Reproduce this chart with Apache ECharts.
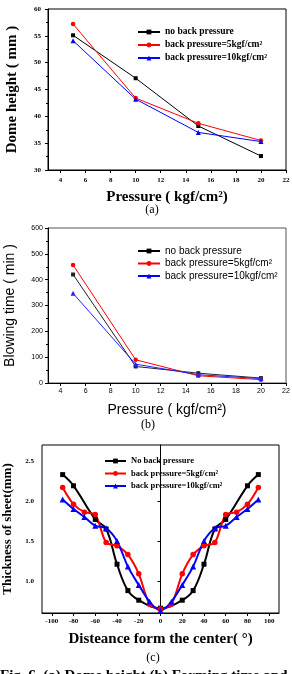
<!DOCTYPE html>
<html><head><meta charset="utf-8">
<script src="https://cdn.jsdelivr.net/npm/echarts@6/dist/echarts.min.js"></script>
<style>html,body{margin:0;padding:0;background:#fff;}#c{width:292px;height:674px;}</style>
</head><body><div id="c"></div>
<script>
// ---- Data ----
const pressure = [5, 10, 15, 20];
const domeNoBP = [55.1, 47.1, 38.2, 32.6];
const dome5 = [57.2, 43.4, 38.7, 35.5];
const dome10 = [54.1, 43.2, 37.0, 35.3];
const blowNoBP = [420, 64, 38, 19];
const blow5 = [457, 90, 28, 13];
const blow10 = [347, 73, 32, 17];
const distBlack = [-90, -80, -60, -50, -40, -30, -20, 0, 20, 30, 40, 50, 60, 80, 90];
const thickNoBP = [2.33, 2.19, 1.77, 1.65, 1.21, 0.88, 0.76, 0.66, 0.76, 0.88, 1.21, 1.65, 1.77, 2.19, 2.33];
const distColor = [-90, -80, -70, -60, -50, -40, -30, -20, -10, 0, 10, 20, 30, 40, 50, 60, 70, 80, 90];
const thick5 = [2.17, 1.96, 1.86, 1.83, 1.48, 1.44, 1.33, 1.09, 0.71, 0.65, 0.71, 1.09, 1.33, 1.44, 1.48, 1.83, 1.86, 1.96, 2.17];
const thick10 = [2.02, 1.90, 1.80, 1.69, 1.66, 1.50, 1.18, 0.95, 0.74, 0.63, 0.74, 0.95, 1.18, 1.50, 1.66, 1.69, 1.80, 1.90, 2.02];
const pressureTicks = [4, 6, 8, 10, 12, 14, 16, 18, 20, 22];
const distTicks = [-100, -80, -60, -40, -20, 0, 20, 40, 60, 80, 100];
const thickTicks = [1.0, 1.5, 2.0, 2.5];
const namesAB = ['no back pressure', 'back pressure=5kgf/cm\u00B2', 'back pressure=10kgf/cm\u00B2'];
const namesC = ['No back pressure', 'back pressure=5kgf/cm\u00B2', 'back pressure=10kgf/cm\u00B2 '];

const serif = '"Liberation Serif","Times New Roman","DejaVu Serif",serif';
const sans = '"Liberation Sans",Arial,"DejaVu Sans",sans-serif';
const zip = (xs, ys) => xs.map((x, i) => [x, ys[i]]);

function xAxisP(gi, font, bold, nameSize, margin) {
  return {
    gridIndex: gi, type: 'value', min: 3, max: 22,
    axisLine: {show: true, lineStyle: {color: '#000', width: 1}},
    axisTick: {show: true, inside: false, length: 3, customValues: pressureTicks, lineStyle: {color: '#000'}},
    axisLabel: {customValues: pressureTicks, fontSize: 7, fontFamily: font, fontWeight: bold ? 'bold' : 'normal', color: '#000', margin: margin},
    splitLine: {show: false},
    name: 'Pressure ( kgf/cm\u00B2)', nameLocation: 'middle', nameGap: 20,
    nameTextStyle: {fontSize: nameSize, fontFamily: font, fontWeight: bold ? 'bold' : 'normal', color: '#000'}
  };
}
function yAxisBase(gi, min, max, interval, name, font, bold, nameSize, nameGap, margin) {
  return {
    gridIndex: gi, type: 'value', min: min, max: max, interval: interval,
    axisLine: {show: true, lineStyle: {color: '#000', width: 1}},
    axisTick: {show: true, inside: false, length: 3, lineStyle: {color: '#000'}},
    minorTick: {show: true, splitNumber: 2, length: 2, lineStyle: {color: '#000'}},
    axisLabel: {fontSize: 7, fontFamily: font, fontWeight: bold ? 'bold' : 'normal', color: '#000', margin: margin},
    splitLine: {show: false},
    name: name, nameLocation: 'middle', nameGap: nameGap,
    nameTextStyle: {fontSize: nameSize, fontFamily: font, fontWeight: bold ? 'bold' : 'normal', color: '#000'}
  };
}
function ser(name, xi, data, color, symbol, size, width, smooth) {
  return {
    type: 'line', name: name, xAxisIndex: xi, yAxisIndex: xi, data: data,
    symbol: symbol, symbolSize: size, smooth: smooth || false,
    lineStyle: {color: color, width: width}, itemStyle: {color: color},
    emphasis: {disabled: true}, animation: false
  };
}

const chart = echarts.init(document.getElementById('c'), null, {renderer: 'canvas'});
chart.setOption({
  animation: false,
  backgroundColor: '#fff',
  grid: [
    {left: 48, top: 9, width: 238, height: 161, show: true, borderColor: '#000', borderWidth: 1, backgroundColor: 'transparent', outerBoundsMode: 'none'},
    {left: 48, top: 228, width: 238, height: 155, show: true, borderColor: '#555', borderWidth: 1, backgroundColor: 'transparent', outerBoundsMode: 'none'},
    {left: 42, top: 445, width: 237, height: 168, show: true, borderColor: '#000', borderWidth: 1, backgroundColor: 'transparent', outerBoundsMode: 'none'}
  ],
  xAxis: [
    xAxisP(0, serif, true, 15, 7),
    xAxisP(1, sans, false, 14, 5),
    {
      gridIndex: 2, type: 'value', min: -109, max: 109,
      axisLine: {show: true, lineStyle: {color: '#000', width: 1}},
      axisTick: {show: true, length: 3, customValues: distTicks, lineStyle: {color: '#000'}},
      axisLabel: {customValues: distTicks, fontSize: 7, fontFamily: serif, fontWeight: 'bold', color: '#000', margin: 5},
      splitLine: {show: false},
      name: 'Disteance form the center( \u00B0)', nameLocation: 'middle', nameGap: 19,
      nameTextStyle: {fontSize: 15, fontFamily: serif, fontWeight: 'bold', color: '#000'}
    }
  ],
  yAxis: [
    yAxisBase(0, 30, 60, 5, 'Dome height ( mm )', serif, true, 15, 28, 7),
    yAxisBase(1, 0, 600, 100, 'Blowing time ( min )', sans, false, 14, 31, 5),
    {
      gridIndex: 2, type: 'value', min: 0.6, max: 2.7,
      axisLine: {show: true, lineStyle: {color: '#000', width: 1}},
      axisTick: {show: true, length: 3, customValues: thickTicks, lineStyle: {color: '#000'}},
      axisLabel: {customValues: thickTicks, fontSize: 7, fontFamily: serif, fontWeight: 'bold', color: '#000', margin: 8,
        formatter: v => v.toFixed(1)},
      splitLine: {show: false},
      name: 'Thickness of sheet(mm)', nameLocation: 'middle', nameGap: 24,
      nameTextStyle: {fontSize: 13, fontFamily: serif, fontWeight: 'bold', color: '#000'}
    }
  ],
  legend: [
    {data: namesAB, orient: 'vertical', left: 132, top: 22, itemWidth: 22, itemHeight: 6, itemGap: 3, selectedMode: false,
      textStyle: {fontSize: 9.5, fontFamily: serif, fontWeight: 'bold', color: '#000', lineHeight: 10}},
    {data: namesAB, orient: 'vertical', left: 132, top: 241, itemWidth: 22, itemHeight: 6, itemGap: 2.5, selectedMode: false,
      textStyle: {fontSize: 10, fontFamily: sans, color: '#000', lineHeight: 10}},
    {data: namesC, orient: 'vertical', left: 99, top: 451, itemWidth: 21, itemHeight: 6, itemGap: 2.5, selectedMode: false,
      textStyle: {fontSize: 8.5, fontFamily: serif, fontWeight: 'bold', color: '#000', lineHeight: 10}}
  ],
  series: [
    ser(namesAB[0], 0, zip(pressure, domeNoBP), '#000', 'rect', 4, 1),
    ser(namesAB[1], 0, zip(pressure, dome5), '#f00', 'circle', 4.5, 1),
    ser(namesAB[2], 0, zip(pressure, dome10), '#00f', 'triangle', 5, 1),
    ser(namesAB[0], 1, zip(pressure, blowNoBP), '#222', 'rect', 4, 1),
    ser(namesAB[1], 1, zip(pressure, blow5), '#f00', 'circle', 4.5, 1),
    ser(namesAB[2], 1, zip(pressure, blow10), '#22f', 'triangle', 5, 1),
    ser(namesC[0], 2, zip(distBlack, thickNoBP), '#000', 'rect', 5, 2, 0.4),
    ser(namesC[1], 2, zip(distColor, thick5), '#f00', 'circle', 5.5, 2, 0.3),
    ser(namesC[2], 2, zip(distColor, thick10), '#00f', 'triangle', 6, 2, 0.3)
  ],
  graphic: [
    {type: 'text', x: 152, y: 210, style: {text: '(a)', font: '12px ' + serif, fill: '#000', align: 'center', verticalAlign: 'middle'}},
    {type: 'text', x: 148, y: 425, style: {text: '(b)', font: '12px ' + serif, fill: '#000', align: 'center', verticalAlign: 'middle'}},
    {type: 'text', x: 153, y: 658, style: {text: '(c)', font: '12px ' + serif, fill: '#000', align: 'center', verticalAlign: 'middle'}},
    {type: 'text', x: 0, y: 669, style: {text: 'Fig. 6. (a) Dome height (b) Forming time and', font: 'bold 15px ' + serif, fill: '#000', align: 'left', verticalAlign: 'top'}}
  ]
});
</script></body></html>
